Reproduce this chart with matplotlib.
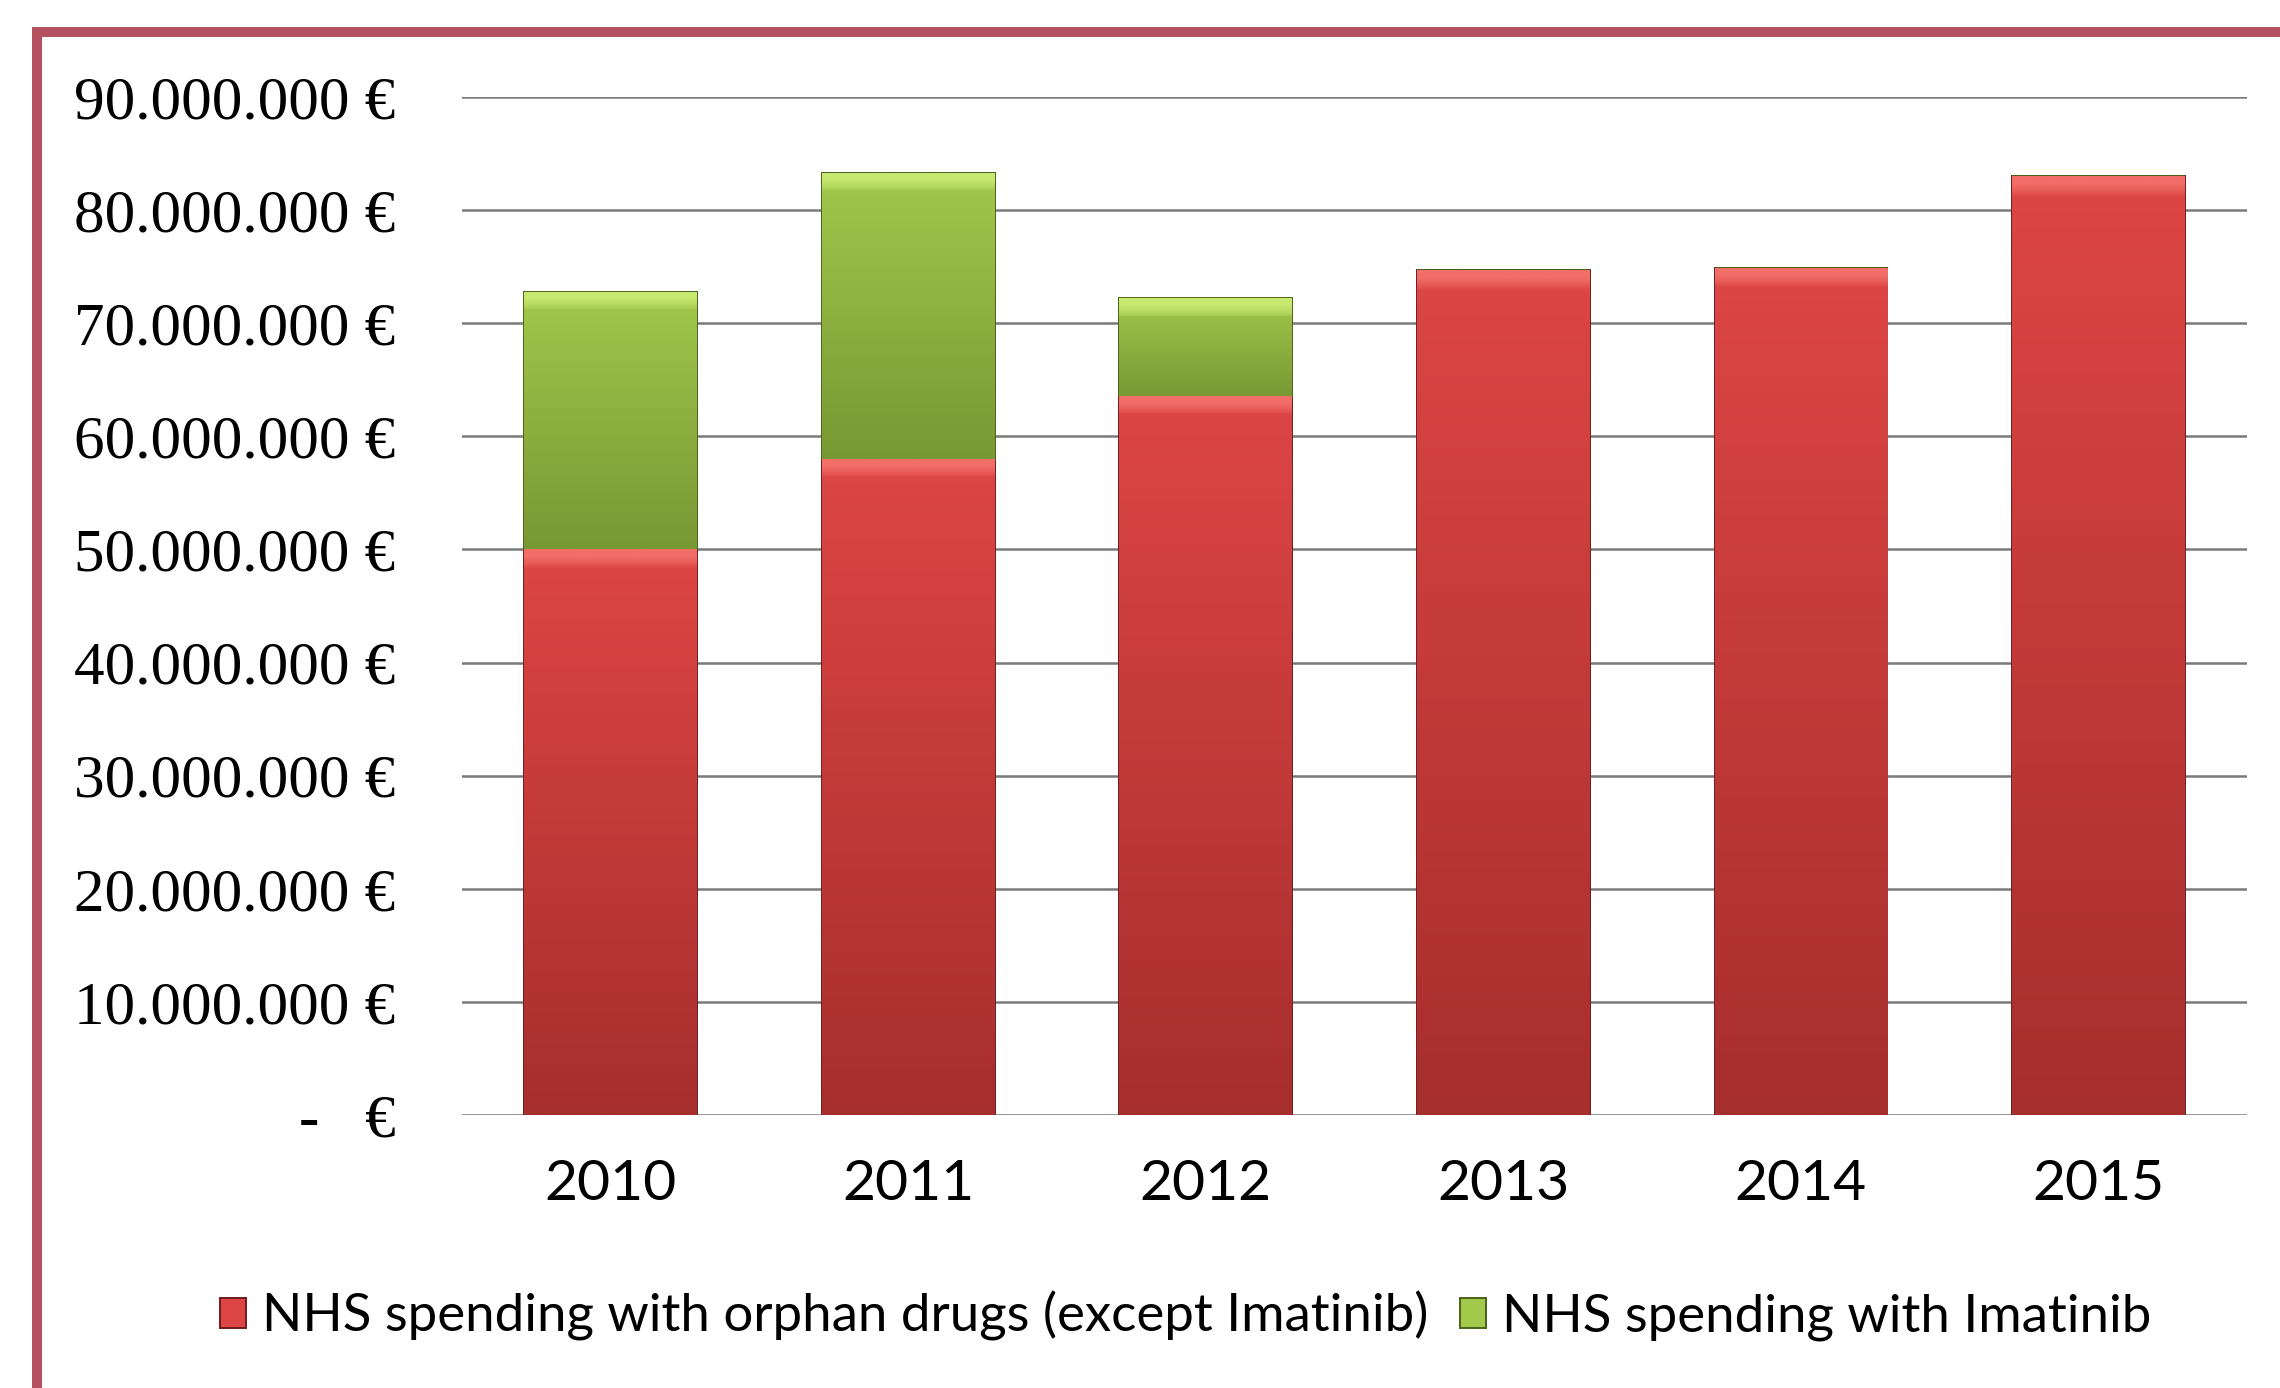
import numpy as np
import matplotlib.pyplot as plt
from matplotlib.patches import Rectangle
from matplotlib.colors import to_rgb

years = ['2010', '2011', '2012', '2013', '2014', '2015']
orphan_except_imatinib = [50.0, 58.0, 63.6, 74.7, 74.9, 83.0]  # millions EUR
imatinib = [22.8, 25.3, 8.6, 0.0, 0.0, 0.0]
yticks = [0, 10, 20, 30, 40, 50, 60, 70, 80, 90]
labels = ['NHS spending with orphan drugs (except Imatinib)',
          'NHS spending with Imatinib']

red = ('#DD4644', '#A62E2D', '#F26E68')    # top, bottom, bevel highlight
green = ('#A2C84C', '#789833', '#C8E870')


def fmt_eur(v):
    if v == 0:
        return '-   €'
    return f'{int(v * 1e6):,} €'.replace(',', '.')


def shade_bars(ax, bars, colors, band=1.6):
    top, bottom, hi = [np.array(to_rgb(c)) for c in colors]
    for b in bars:
        h = b.get_height()
        if h <= 0:
            continue
        t = np.linspace(0, 1, 400)
        img = bottom + (top - bottom) * t[:, None]
        frac = band / h
        mask = t > 1 - frac
        s = ((t[mask] - (1 - frac)) / frac)[:, None]
        img[mask] = top + (hi - top) * np.clip(s * 1.6, 0, 1) ** 0.7
        x0, y0 = b.get_x(), b.get_y()
        im = ax.imshow(img[:, None, :], origin='lower', aspect='auto',
                       extent=(x0, x0 + b.get_width(), y0, y0 + h),
                       zorder=b.get_zorder() + 0.1, interpolation='bilinear')
        im.set_clip_path(b)


fig = plt.figure(figsize=(11.4, 6.94), dpi=200)
ax = fig.add_axes([0.2026, 0.1967, 0.783, 0.7334])

x = np.arange(len(years))
w = 0.58
b1 = ax.bar(x, orphan_except_imatinib, w, color=red[0], edgecolor='#6E1C1C',
            linewidth=0.7, zorder=3, label=labels[0])
b2 = ax.bar(x, imatinib, w, bottom=orphan_except_imatinib, color=green[0],
            edgecolor='#4A6319', linewidth=0.7, zorder=3, label=labels[1])
shade_bars(ax, b1, red)
shade_bars(ax, b2, green)

ax.set_xlim(-0.5, len(years) - 0.5)
ax.set_ylim(0, 90)
ax.set_yticks(yticks)
ax.set_yticklabels([fmt_eur(v) for v in yticks], family='Liberation Serif',
                   fontsize=22, color='black')
ax.set_xticks(x)
ax.set_xticklabels(years, family='Lato', fontsize=20.5, color='black')
ax.tick_params(axis='y', length=0, pad=24)
ax.tick_params(axis='x', length=0, pad=16)
for s in ax.spines.values():
    s.set_visible(False)
ax.grid(axis='y', color='#7A7A7A', linewidth=0.9, zorder=0)
ax.set_axisbelow(True)

leg = fig.legend(handles=[b1, b2], labels=labels, loc='center',
                 bbox_to_anchor=(0.52, 0.052), ncol=2, frameon=False,
                 prop={'family': 'Lato', 'size': 19}, handlelength=0.5,
                 handleheight=0.5, handletextpad=0.3, columnspacing=0.6)

# chart frame (only top and left edges fall inside the picture)
fig.patches.append(Rectangle((37 / 2280, -0.1), 1.2, 1 - 32 / 1388 + 0.1,
                             transform=fig.transFigure, fill=False,
                             edgecolor='#B4535F', linewidth=3.6))

fig.savefig('out.png', dpi=200)
